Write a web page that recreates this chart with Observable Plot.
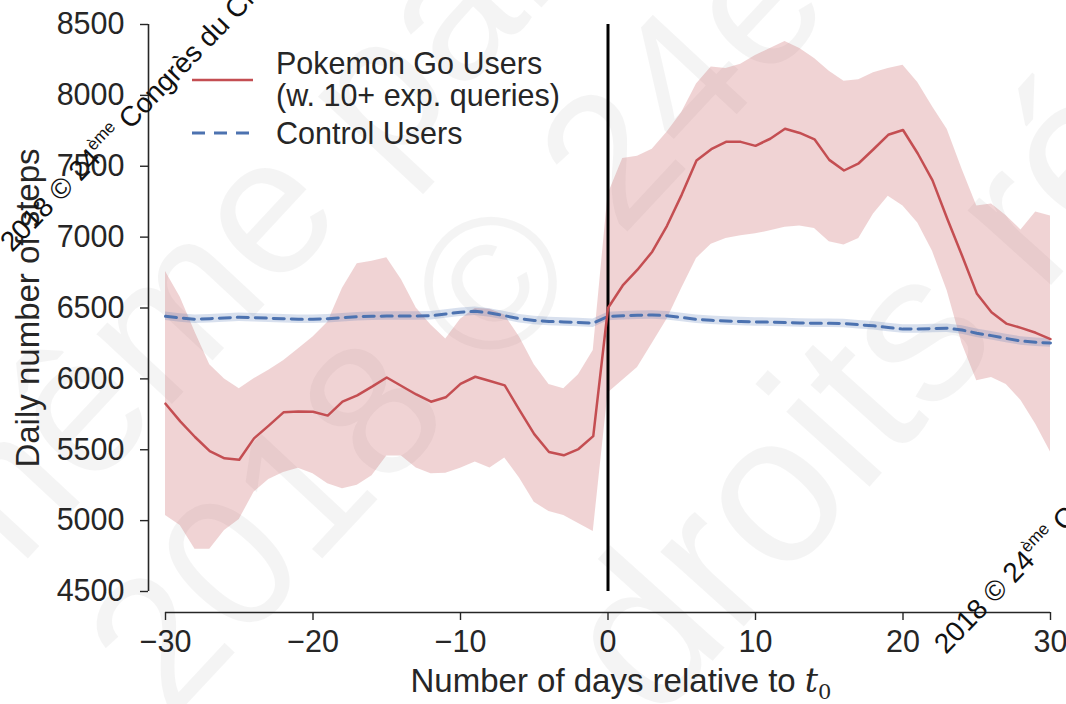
<!DOCTYPE html>
<html><head><meta charset="utf-8">
<script src="https://cdn.jsdelivr.net/npm/d3@7"></script>
<script src="https://cdn.jsdelivr.net/npm/@observablehq/plot@0.6"></script>
<style>
body{margin:0;background:#fff}
#chart{position:relative;width:1066px;height:704px;overflow:hidden}
</style>
</head><body><div id="chart"></div>
<script>
// ---- data ----
const days = [-30,-29,-28,-27,-26,-25,-24,-23,-22,-21,-20,-19,-18,-17,-16,-15,-14,-13,-12,-11,-10,-9,-8,-7,-6,-5,-4,-3,-2,-1,0,1,2,3,4,5,6,7,8,9,10,11,12,13,14,15,16,17,18,19,20,21,22,23,24,25,26,27,28,29,30];
const pokeMean = [5825,5700,5590,5490,5440,5430,5580,5670,5764,5770,5768,5741,5839,5884,5945,6010,5950,5890,5839,5870,5965,6015,5985,5954,5780,5610,5484,5461,5505,5596,6500,6659,6770,6897,7080,7300,7540,7620,7672,7672,7644,7694,7764,7735,7690,7545,7470,7521,7620,7722,7756,7590,7400,7130,6870,6603,6470,6390,6360,6325,6281];
const pokeHigh = [6757,6575,6330,6099,6000,5931,6001,6060,6127,6210,6295,6400,6640,6813,6830,6855,6700,6500,6380,6281,6421,6497,6491,6450,6295,6100,5960,5930,6029,6200,7300,7554,7570,7620,7740,7880,8080,8200,8190,8220,8282,8330,8380,8330,8260,8170,8100,8110,8160,8190,8212,8090,7920,7760,7480,7219,7233,7150,7051,7177,7149];
const pokeLow = [5036,4966,4798,4798,4930,5008,5200,5290,5340,5370,5330,5260,5225,5250,5316,5456,5456,5372,5330,5335,5370,5414,5372,5442,5300,5130,5064,5036,4980,4924,5900,5990,6080,6250,6420,6640,6850,6950,6990,7010,7023,7045,7070,7079,7060,6967,6945,6990,7163,7289,7220,7100,6900,6620,6250,5987,6010,5960,5848,5680,5484];
const ctrlMean = [6441,6430,6421,6425,6430,6435,6432,6428,6424,6421,6421,6425,6432,6438,6442,6443,6443,6443,6445,6458,6470,6477,6465,6445,6425,6412,6405,6402,6398,6393,6440,6445,6449,6450,6446,6433,6420,6413,6408,6404,6402,6400,6397,6394,6393,6393,6390,6382,6374,6362,6351,6352,6355,6357,6345,6322,6305,6285,6267,6258,6253];
const ctrlHalfWidth = [30,30,30,30,30,30,30,30,30,30,30,30,30,30,30,30,30,30,30,30,30,30,30,30,30,30,30,30,30,30,30,30,30,30,30,30,30,30,30,30,30,30,30,30,30,30,30,30,30,30,30,30,30,30,30,30,30,30,30,30,30];
const xTicks = [-30,-20,-10,0,10,20,30];
const yTicks = [4500,5000,5500,6000,6500,7000,7500,8000,8500];
const seriesNames = ["Pokemon Go Users", "(w. 10+ exp. queries)", "Control Users"];
const xLabel = "Number of days relative to ";
const yLabel = "Daily number of steps";
const watermarkSmall = ["2018 © 24", "ème", " Congrès du CNOSF"];
const watermarkLarge = ["même par", "2018 © 24ème", "droits ré"];

const red = "#c44e52", blue = "#4c72b0", ink = "#262626";
const font = "'Liberation Sans', Arial, Helvetica, sans-serif";

const pokemon = days.map((d,i)=>({day:d, mean:pokeMean[i], lo:pokeLow[i], hi:pokeHigh[i]}));
const control = days.map((d,i)=>({day:d, mean:ctrlMean[i], lo:ctrlMean[i]-ctrlHalfWidth[i], hi:ctrlMean[i]+ctrlHalfWidth[i]}));

const plot = Plot.plot({
  width:1066, height:704,
  marginLeft:165, marginRight:16, marginTop:24, marginBottom:113,
  style:{fontFamily:font, fontSize:"30.5px", color:ink, background:"white", overflow:"visible"},
  x:{domain:[-30,30]},
  y:{domain:[4500,8500]},
  marks:[
    Plot.areaY(pokemon,{x:"day", y1:"lo", y2:"hi", fill:red, fillOpacity:0.25}),
    Plot.areaY(control,{x:"day", y1:"lo", y2:"hi", fill:blue, fillOpacity:0.22}),
    Plot.ruleX([0],{stroke:"#000", strokeWidth:3}),
    Plot.line(control,{x:"day", y:"mean", stroke:blue, strokeWidth:3, strokeDasharray:"11,7"}),
    Plot.line(pokemon,{x:"day", y:"mean", stroke:red, strokeWidth:2.5}),
    Plot.ruleX([-30],{dx:-17, stroke:ink, strokeWidth:1.6}),
    Plot.ruleY([4500],{dy:21, stroke:ink, strokeWidth:1.6}),
    Plot.axisY({ticks:yTicks, tickSize:8, tickPadding:16, dx:-17, tickFormat:d=>String(d), label:null, stroke:ink, strokeWidth:1.4, fill:ink, fontSize:30.5}),
    Plot.axisX({ticks:xTicks, tickSize:8, tickPadding:10, dy:21, label:null, stroke:ink, strokeWidth:1.4, fill:ink, fontSize:30.5}),
    Plot.text([yLabel],{frameAnchor:"left", rotate:-90, dx:-137, textAnchor:"middle", lineAnchor:"middle", text:d=>d, fill:ink, fontSize:33}),
    Plot.text([xLabel],{frameAnchor:"bottom", dy:90, dx:13, textAnchor:"middle", lineAnchor:"middle", text:d=>d, fill:ink, fontSize:33})
  ]
});
document.getElementById("chart").appendChild(plot);

const svg = d3.select(plot);

// faint large background watermark (drawn under the chart marks)
const big = svg.insert("g",":first-child").attr("font-family",font).attr("fill","#000").attr("fill-opacity",0.045).attr("text-anchor","start");
big.append("text").attr("transform","translate(-22,612) rotate(-47)").attr("font-size",195).text(watermarkLarge[0]);
big.append("text").attr("transform","translate(170,722) rotate(-47)").attr("font-size",188).text(watermarkLarge[1]);
big.append("text").attr("transform","translate(655,725) rotate(-48)").attr("font-size",212).text(watermarkLarge[2]);
svg.insert("rect",":first-child").attr("width",1066).attr("height",704).attr("fill","white");

// math-style t0 in x label
svg.selectAll("text").filter(function(){return this.textContent===xLabel;}).each(function(){
  const t = d3.select(this);
  t.append("tspan").attr("font-style","italic").attr("font-family","'DejaVu Serif', serif").text("t");
  t.append("tspan").attr("font-size","21px").attr("dy","7").attr("font-family","'DejaVu Serif', serif").text("0");
});

// legend
const lg = svg.append("g").attr("font-family",font).attr("font-size",30.5).attr("fill",ink).attr("text-anchor","start");
lg.append("line").attr("x1",192).attr("x2",253).attr("y1",80).attr("y2",80).attr("stroke",red).attr("stroke-width",2.5);
lg.append("line").attr("x1",192).attr("x2",253).attr("y1",133).attr("y2",133).attr("stroke",blue).attr("stroke-width",3).attr("stroke-dasharray","13,9");
lg.append("text").attr("x",276).attr("y",74).text(seriesNames[0]);
lg.append("text").attr("x",276).attr("y",106).text(seriesNames[1]);
lg.append("text").attr("x",276).attr("y",144).text(seriesNames[2]);

// small watermarks
function wm(x,y){
  const t = svg.append("text").attr("transform",`translate(${x},${y}) rotate(-46)`).attr("text-anchor","start")
    .attr("font-family",font).attr("font-size",28).attr("fill","#111");
  t.append("tspan").text(watermarkSmall[0]);
  t.append("tspan").attr("font-size",17).attr("dy",-12).text(watermarkSmall[1]);
  t.append("tspan").attr("dy",12).text(watermarkSmall[2]);
}
wm(12,253);
wm(946,655);
</script>
</body></html>
